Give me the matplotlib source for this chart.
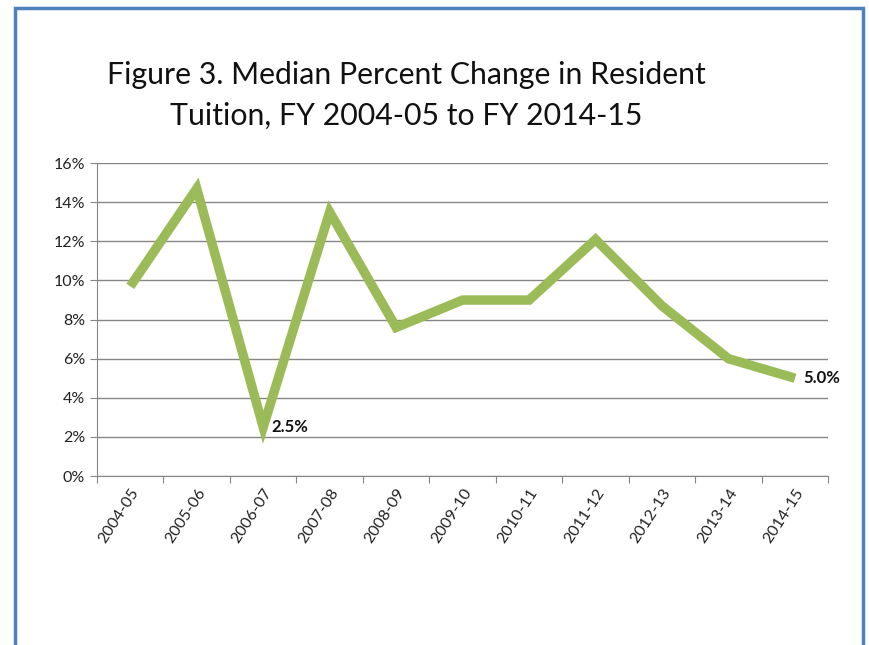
import matplotlib.pyplot as plt
from matplotlib.patches import Rectangle
from matplotlib.ticker import FuncFormatter, FixedLocator

# Median percent change in resident tuition by fiscal year
years = ['2004-05', '2005-06', '2006-07', '2007-08', '2008-09', '2009-10',
         '2010-11', '2011-12', '2012-13', '2013-14', '2014-15']
pct_change = [9.7, 14.7, 2.5, 13.5, 7.6, 9.0, 9.0, 12.1, 8.7, 6.0, 5.0]
labelled = {2: '2.5%', 10: '5.0%'}

plt.rcParams['font.family'] = ['Lato', 'DejaVu Sans']

fig = plt.figure(figsize=(8.7, 6.45), dpi=100)

# blue chart border (Excel style), bottom edge runs off the picture
fig.patches.append(Rectangle((15 / 870, -0.05), (863 - 15) / 870, (645 - 8) / 645 + 0.05,
                             transform=fig.transFigure, fill=False,
                             edgecolor='#4F81BD', linewidth=2.5))

fig.text(0.467, 0.883, 'Figure 3. Median Percent Change in Resident',
         ha='center', va='center', fontsize=21.8, color='#111111')
fig.text(0.467, 0.820, 'Tuition, FY 2004-05 to FY 2014-15',
         ha='center', va='center', fontsize=21.8, color='#111111')

ax = fig.add_axes([0.1115, 0.262, 0.8405, 0.485])
x = list(range(len(years)))
ax.plot(x, pct_change, color='#9BBB59', linewidth=6.8, solid_joinstyle='miter',
        solid_capstyle='butt', zorder=3)

for i, txt in labelled.items():
    ax.annotate(txt, (x[i], pct_change[i]), xytext=(6, 0), textcoords='offset points',
                ha='left', va='center', fontsize=12, fontweight='bold', color='#111111',
                zorder=4)

ax.set_xlim(-0.5, len(years) - 0.5)
ax.set_ylim(0, 16)
ax.set_yticks(range(0, 17, 2))
ax.yaxis.set_major_formatter(FuncFormatter(lambda v, p: f'{v:.0f}%'))
ax.xaxis.set_major_locator(FixedLocator([i - 0.5 for i in range(len(years) + 1)]))
ax.xaxis.set_minor_locator(FixedLocator(x))
ax.set_xticklabels([])
ax.set_xticklabels(years, minor=True, rotation=57, ha='right', va='top',
                   rotation_mode='anchor', fontsize=11.5, color='#222222')
ax.tick_params(axis='x', which='minor', length=0, pad=7)
ax.tick_params(axis='x', which='major', length=5, color='#868686')
ax.tick_params(axis='y', length=5, color='#868686', labelsize=11.5, labelcolor='#222222')

ax.grid(axis='y', color='#868686', linewidth=1)
ax.set_axisbelow(True)
for s in ['top', 'right']:
    ax.spines[s].set_visible(False)
for s in ['left', 'bottom']:
    ax.spines[s].set_color('#868686')

fig.savefig('out.png', dpi=100)
